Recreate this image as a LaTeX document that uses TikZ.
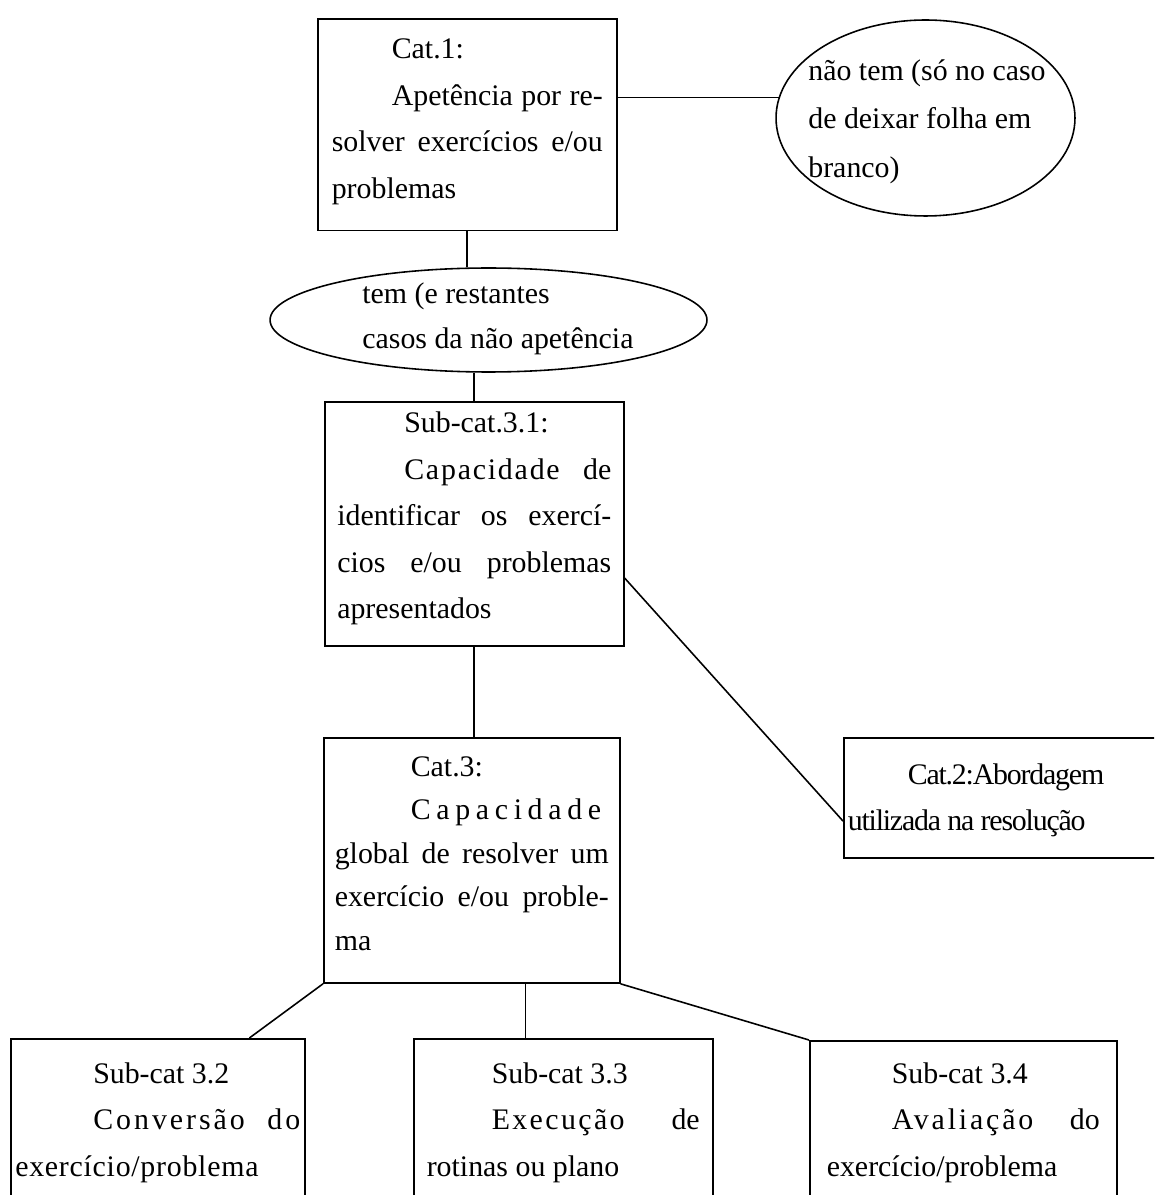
\documentclass[tikz,border=0pt]{standalone}
\usepackage{fontspec}
\setmainfont{Liberation Serif}
\usepackage{tikz}
\usetikzlibrary{shapes.geometric,positioning,calc}
\setlength{\parindent}{0pt}
\hyphenpenalty=10000
\exhyphenpenalty=10000
\newcommand{\letras}[2]{{\addfontfeatures{LetterSpace=#1}#2}}

\begin{document}
\begin{tikzpicture}[x=0.02cm, y=-0.02cm,
  caixa/.style={draw, line width=0.9pt, rectangle, anchor=north west, align=justify, font=\fontsize{17}{26.5}\selectfont},
  oval/.style={draw, ellipse, line width=0.9pt, inner sep=0pt},
  texto/.style={inner sep=0pt, anchor=north west, align=left},
  liga/.style={line width=0.9pt}]
\useasboundingbox (0,0) rectangle (1154,1195);
\clip (0,0) rectangle (1154,1195);

\node[caixa, text width=5.42cm, inner xsep=0.28cm, inner ysep=0.4cm, text depth=3.04cm] (cat1) at (317,18) {\hspace*{1.2cm}Cat.1:\par\hspace*{1.2cm}Apetência~por~re-\linebreak solver~exercícios~e/ou\linebreak problemas};
\node[oval, minimum width=5.98cm, minimum height=3.92cm] (naotem) at (925.5,118) {};
\node[texto, font=\fontsize{17}{27.8}\selectfont] (naotemtxt) at (808,59) {não tem (só no caso\\de deixar folha em\\branco)};
\node[oval, minimum width=8.74cm, minimum height=2.08cm] (tem) at (488.5,320) {};
\node[texto, font=\fontsize{17}{25.6}\selectfont] (temtxt) at (362,282) {tem (e restantes\\casos da não apetência};
\node[caixa, text width=5.48cm, inner xsep=0.25cm, inner ysep=0.2cm, text depth=4.07cm] (sub31) at (324,401) {\hspace*{1.34cm}Sub-cat.3.1:\par\hspace*{1.34cm}\letras{6}{Capacidade}~de\linebreak identificar~os~exercí-\linebreak cios~e/ou~problemas\linebreak apresentados};
\node[caixa, text width=5.48cm, inner xsep=0.22cm, inner ysep=0.37cm, text depth=3.77cm, font=\fontsize{17}{24.75}\selectfont] (cat3) at (323,737) {\hspace*{1.52cm}Cat.3:\par\hspace*{1.52cm}\letras{19}{Capacidade}\linebreak global~de~resolver~um\linebreak exercício~e/ou~proble-\linebreak ma};
\node[caixa, text width=6.4cm, inner xsep=0.08cm, inner ysep=0.51cm, text depth=0.97cm] (cat2) at (843,737) {\hspace*{1.2cm}\letras{-4}{Cat.2:Abordagem}\par \letras{-4}{utilizada~na~resolução}};
\node[caixa, text width=5.7cm, inner xsep=0.09cm, inner ysep=0.47cm, text depth=4cm] (sub32) at (10,1038) {\hspace*{1.56cm}Sub-cat~3.2\par\hspace*{1.56cm}\letras{10}{Conversão}~\letras{10}{do}\linebreak \letras{2.5}{exercício/problema}};
\node[caixa, text width=5.46cm, inner xsep=0.26cm, inner ysep=0.47cm, text depth=4cm] (sub33) at (413,1038) {\hspace*{1.3cm}Sub-cat~3.3\par\hspace*{1.3cm}\letras{8}{Execução}~de\linebreak rotinas~ou~plano};
\node[caixa, text width=5.46cm, inner xsep=0.34cm, inner ysep=0.43cm, text depth=4cm] (sub34) at (809,1040) {\hspace*{1.3cm}Sub-cat~3.4\par\hspace*{1.3cm}\letras{9.5}{Avaliação}~do\linebreak exercício/problema};

\draw[liga] (naotem.172) -- (naotem.172 -| cat1.east);
\draw[liga] (cat1.south) -- (cat1.south |- tem.north);
\draw[liga] (tem.south -| sub31.north) -- (sub31.north);
\draw[liga] (sub31.south) -- (sub31.south |- cat3.north);
\draw[liga] ($(sub31.north east)!0.72!(sub31.south east)$) -- ($(cat2.north west)!0.69!(cat2.south west)$);
\draw[liga] (cat3.south west) -- ($(sub32.north west)!0.81!(sub32.north east)$);
\draw[liga] ($(cat3.south west)!0.68!(cat3.south east)$) coordinate (meio) -- (meio |- sub33.north);
\draw[liga] (cat3.south east) -- (sub34.north west);
\end{tikzpicture}
\end{document}
